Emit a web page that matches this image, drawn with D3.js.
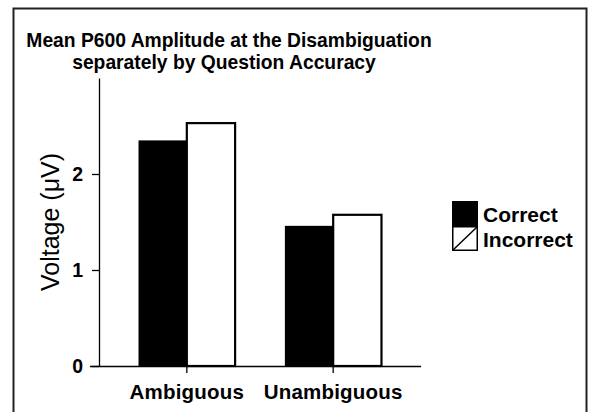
<!DOCTYPE html>
<html>
<head>
<meta charset="utf-8">
<script src="https://cdn.jsdelivr.net/npm/d3@7"></script>
<style>
  html, body { margin: 0; padding: 0; background: #fff; }
  svg { display: block; }
  text { font-family: "Liberation Sans", Arial, Helvetica, sans-serif; fill: #000; }
</style>
</head>
<body>
<svg id="chart" width="595" height="412"></svg>
<script>
const categories = ["Ambiguous", "Unambiguous"];
const seriesNames = ["Correct", "Incorrect"];
const correctValues = [2.35, 1.46];
const incorrectValues = [2.53, 1.575];
const yTicks = [0, 1, 2];
const titleLines = ["Mean P600 Amplitude at the Disambiguation", "separately by Question Accuracy"];
const yLabel = "Voltage (\u03BCV)";

const svg = d3.select("#chart");

// outer frame
svg.append("rect")
  .attr("x", 13.5).attr("y", 8.5).attr("width", 573).attr("height", 420)
  .attr("fill", "none").attr("stroke", "#222").attr("stroke-width", 2);

const y = d3.scaleLinear().domain([0, 3]).range([366, 78]);
const x = d3.scaleBand().domain(categories).range([99, 421]).paddingInner(0.34).paddingOuter(0.27);
const xs = d3.scaleBand().domain(seriesNames).range([0, x.bandwidth()]);

const data = categories.map((c, i) => ({
  cat: c,
  vals: [{s: "Correct", v: correctValues[i]}, {s: "Incorrect", v: incorrectValues[i]}]
}));

// bars
const g = svg.append("g");
const groups = g.selectAll("g.grp").data(data).join("g")
  .attr("transform", d => `translate(${x(d.cat)},0)`);
groups.selectAll("rect").data(d => d.vals).join("rect")
  .attr("x", d => xs(d.s))
  .attr("y", d => y(d.v))
  .attr("width", xs.bandwidth())
  .attr("height", d => y(0) - y(d.v))
  .attr("fill", d => d.s === "Correct" ? "#000" : "#fff")
  .attr("stroke", "#000")
  .attr("stroke-width", d => d.s === "Correct" ? 0 : 2.2);

// y axis
const yAxis = svg.append("g").attr("transform", "translate(99,0)")
  .call(d3.axisLeft(y).tickValues(yTicks).tickFormat(d3.format("d")).tickSize(7).tickSizeOuter(0).tickPadding(9));
yAxis.selectAll("text").attr("font-size", 19.5).attr("font-weight", "bold")
  .attr("font-family", "'Liberation Sans', Arial, sans-serif");
yAxis.selectAll("path, line").attr("stroke", "#000").attr("stroke-width", 1.3);

// x axis
const xAxis = svg.append("g").attr("transform", "translate(0,366)")
  .call(d3.axisBottom(x).tickSize(7).tickSizeOuter(0).tickPadding(11));
xAxis.selectAll("text").attr("font-size", 20.5).attr("font-weight", "bold")
  .attr("font-family", "'Liberation Sans', Arial, sans-serif").attr("letter-spacing", "0.2px");
xAxis.selectAll("path, line").attr("stroke", "#000").attr("stroke-width", 1.3);
xAxis.select("path.domain").attr("d", "M90,0.5H421");

// title
svg.append("text")
  .attr("x", 229).attr("y", 47)
  .attr("text-anchor", "middle").attr("font-size", 19.3).attr("font-weight", "bold")
  .text(titleLines[0]);
svg.append("text")
  .attr("x", 224).attr("y", 69)
  .attr("text-anchor", "middle").attr("font-size", 19.3).attr("font-weight", "bold")
  .text(titleLines[1]);

// y label
svg.append("text")
  .attr("transform", "translate(59,222) rotate(-90)")
  .attr("text-anchor", "middle").attr("font-size", 25)
  .text(yLabel);

// legend
const lg = svg.append("g").attr("transform", "translate(452,201)");
const sw = 26, sh = 25;
lg.append("rect").attr("x", 0).attr("y", 0).attr("width", sw).attr("height", sh).attr("fill", "#000");
lg.append("rect").attr("x", 0.75).attr("y", sh + 0.75).attr("width", sw - 1.5).attr("height", sh - 1.5)
  .attr("fill", "#fff").attr("stroke", "#000").attr("stroke-width", 1.5);
lg.append("line").attr("x1", 1).attr("y1", 2 * sh - 1).attr("x2", sw - 1).attr("y2", sh + 1)
  .attr("stroke", "#000").attr("stroke-width", 1.5);
lg.selectAll("text.leg").data(seriesNames).join("text")
  .attr("class", "leg")
  .attr("x", 31).attr("y", (d, i) => 21 + i * 25)
  .attr("font-size", 21).attr("font-weight", "bold")
  .text(d => d);
</script>
</body>
</html>
